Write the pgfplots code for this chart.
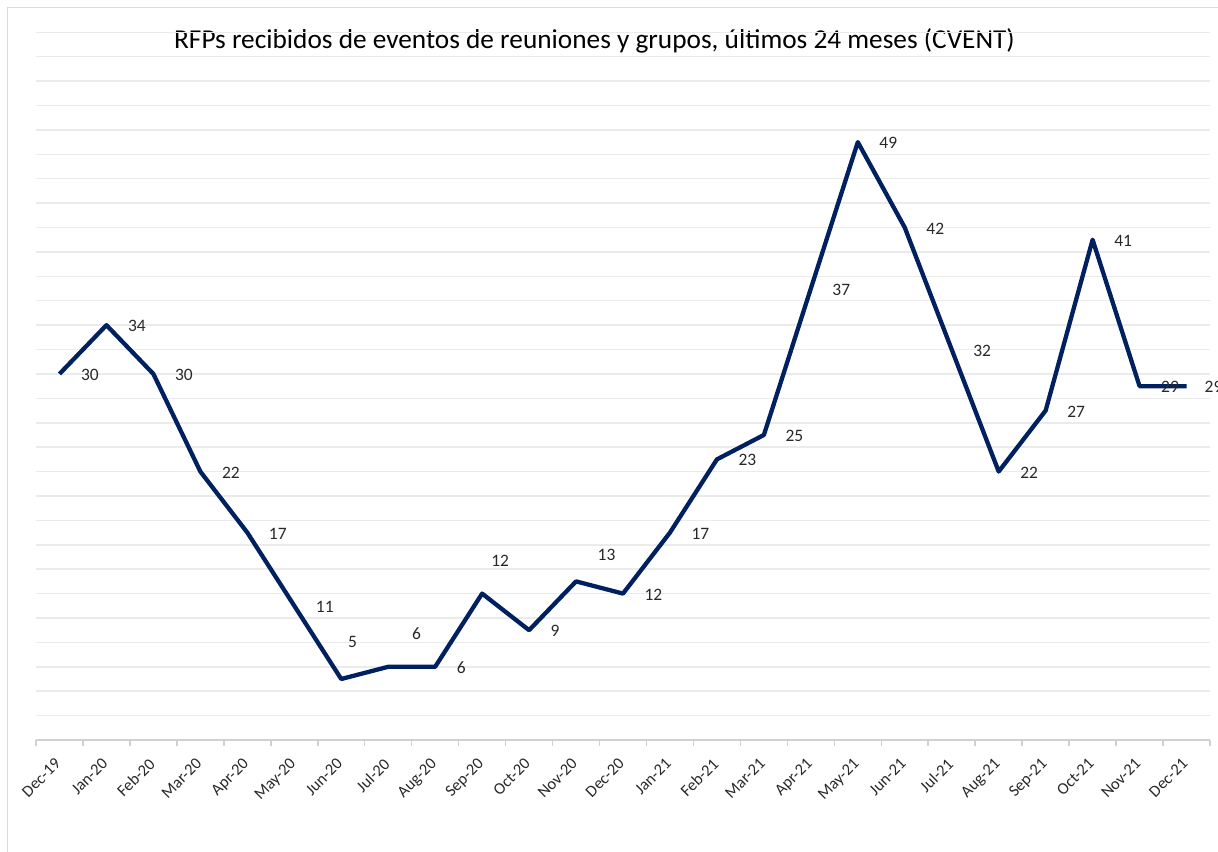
\documentclass[border=0pt]{standalone}
\usepackage{fontspec}
\setmainfont{Carlito}
\usepackage{pgfplots}
\pgfplotsset{compat=1.18}
\usepackage{pgfplotstable}
\definecolor{navy}{RGB}{0,32,96}
\definecolor{gridc}{RGB}{235,235,235}
\definecolor{axc}{RGB}{208,208,208}
\definecolor{lblc}{RGB}{40,40,40}
\pgfplotstableread{
x y dx dy
0 30 19.5 -1
1 34 19.5 -1
2 30 19.5 -1
3 22 19.5 -1
4 17 19.5 -1
5 11 19.5 -1
6 5 4.7 37.3
7 6 21.7 32.8
8 6 19.5 -1
9 12 7 33
10 9 19.5 -1
11 13 19.5 26.4
12 12 19.5 -1
13 17 19.5 -1
14 23 19.5 -1
15 25 19.5 -1
16 37 19.5 -1
17 49 19.5 -1
18 42 19.5 -1
19 32 19.5 -1
20 22 19.5 -1
21 27 19.5 -1
22 41 19.5 -1
23 29 19.5 -1
24 29 16 -1
}\rfps
\begin{document}
\begin{tikzpicture}
\path[use as bounding box] (0,0) rectangle (1218bp,-852bp);
\draw[axc!80, line width=1bp] (7.3bp,-852bp) -- (7.3bp,-7.3bp) -- (1218bp,-7.3bp);
\node[anchor=base, font=\fontsize{27.4}{32}\selectfont] at (594.5bp,-48.8bp)
  {RFPs recibidos de eventos de reuniones y grupos, últimos 24 meses (CVENT)};
\begin{axis}[
  at={(36bp,-740bp)}, anchor=south west,
  scale only axis, width=1174bp, height=707.7bp,
  xmin=-0.5, xmax=24.5, ymin=0, ymax=58,
  clip=false,
  /pgf/number format/assume math mode=true,
  axis x line*=bottom, axis y line*=left,
  y axis line style={draw=none},
  x axis line style={axc, line width=1.5bp},
  xtick={0,...,24},
  xticklabels={Dec-19,Jan-20,Feb-20,Mar-20,Apr-20,May-20,Jun-20,Jul-20,Aug-20,Sep-20,Oct-20,Nov-20,Dec-20,Jan-21,Feb-21,Mar-21,Apr-21,May-21,Jun-21,Jul-21,Aug-21,Sep-21,Oct-21,Nov-21,Dec-21},
  minor xtick={-0.5,0.5,...,24.5},
  tick align=outside,
  major tick length=0pt,
  minor tick length=6bp,
  minor tick style={axc, line width=1.5bp},
  xticklabel shift=17bp,
  xticklabel style={anchor=north east, inner sep=0pt,
    font=\fontsize{16.5}{18}\selectfont, text=lblc, xshift=-5.5bp, rotate=45},
  ytick={2,4,...,58},
  yticklabels={},
  ymajorgrids,
  y grid style={gridc, line width=1.5bp},
]
\addplot[navy, line width=4.3bp, line join=round,
  nodes near coords,
  visualization depends on={\thisrow{dx}\as\dx},
  visualization depends on={\thisrow{dy}\as\dy},
  every node near coord/.append style={anchor=west, inner sep=0pt,
    font=\fontsize{17.5}{20}\selectfont, text=lblc,
    xshift=\dx*1bp, yshift=\dy*1bp},
] table[x=x, y=y, meta=y] {\rfps};
\end{axis}
\end{tikzpicture}
\end{document}
